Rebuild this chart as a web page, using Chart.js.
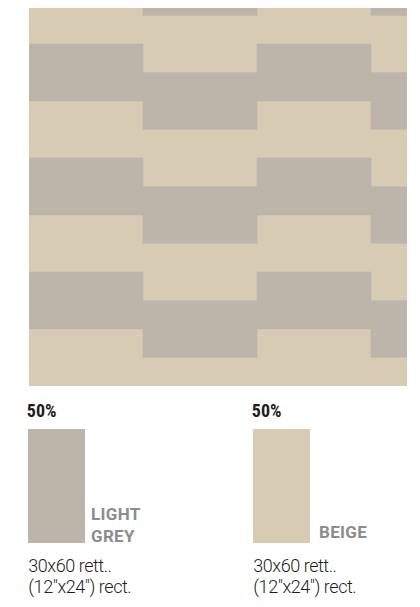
<!DOCTYPE html>
<html>
<head>
<meta charset="utf-8">
<script src="https://cdn.jsdelivr.net/npm/chart.js@4/dist/chart.umd.min.js"></script>
<style>
  html, body { margin: 0; padding: 0; background: #ffffff; }
  body { width: 420px; height: 607px; position: relative; overflow: hidden; }
  #wrap { position: absolute; left: 0; top: 0; width: 420px; height: 394px; }
  .pct { position: absolute; font-family: "Roboto Condensed", "DejaVu Sans Condensed", sans-serif; font-weight: bold; font-size: 18px; line-height: 18px; color: #1e1e1e; white-space: nowrap; }
  .sw { position: absolute; width: 57px; height: 114px; }
  .name { position: absolute; font-family: Roboto, "Liberation Sans", sans-serif; font-weight: 700; font-size: 17px; line-height: 22px; letter-spacing: 0.3px; color: #8c8c8c; white-space: nowrap; }
  .size { position: absolute; font-family: Roboto, "Liberation Sans", sans-serif; font-weight: 300; font-size: 18px; line-height: 20.5px; letter-spacing: -0.45px; color: #1e1e1e; white-space: nowrap; }
</style>
</head>
<body>
<div id="wrap"><canvas id="c" width="420" height="394"></canvas></div>
<div id="legend"></div>
<script>
// Pattern: columns of 30x60 cm tiles laid vertically (x = column centre in cm, columns 60 cm wide)
const columnEdges = [0, 60, 120, 180];
const patternWidthCm = 198.95;
const patternHeightCm = 198.95;

// tile segments [bottom, top] in cm, measured from the bottom edge of the pattern
const greyTiles = [
  {x: 30,  y: [30, 60]}, {x: 30,  y: [90, 120]}, {x: 30,  y: [150, 180]},
  {x: 90,  y: [15, 45]}, {x: 90,  y: [75, 105]}, {x: 90,  y: [135, 165]}, {x: 90,  y: [195, 225]},
  {x: 150, y: [30, 60]}, {x: 150, y: [90, 120]}, {x: 150, y: [150, 180]},
  {x: 210, y: [15, 45]}, {x: 210, y: [75, 105]}, {x: 210, y: [135, 165]}, {x: 210, y: [195, 225]}
];
const beigeTiles = [
  {x: 30,  y: [0, 30]},   {x: 30,  y: [60, 90]},  {x: 30,  y: [120, 150]}, {x: 30,  y: [180, 210]},
  {x: 90,  y: [-15, 15]}, {x: 90,  y: [45, 75]},  {x: 90,  y: [105, 135]}, {x: 90,  y: [165, 195]},
  {x: 150, y: [0, 30]},   {x: 150, y: [60, 90]},  {x: 150, y: [120, 150]}, {x: 150, y: [180, 210]},
  {x: 210, y: [-15, 15]}, {x: 210, y: [45, 75]},  {x: 210, y: [105, 135]}, {x: 210, y: [165, 195]}
];

const seriesNames = ['LIGHT GREY', 'BEIGE'];
const seriesShares = ['50%', '50%'];
const seriesColors = ['#bdb4aa', '#d8cbb4'];
const tileFormat = ['30x60 rett..', '(12\u2033x24\u2033) rect.'];

new Chart(document.getElementById('c'), {
  type: 'bar',
  data: {
    datasets: [
      { label: seriesNames[0], data: greyTiles, backgroundColor: seriesColors[0] },
      { label: seriesNames[1], data: beigeTiles, backgroundColor: seriesColors[1] }
    ]
  },
  options: {
    responsive: false,
    animation: false,
    events: [],
    layout: { padding: { left: 29, right: 13, top: 8, bottom: 8 } },
    datasets: {
      bar: { grouped: false, barPercentage: 1, categoryPercentage: 1, borderWidth: 0, clip: 0 }
    },
    scales: {
      x: {
        type: 'linear', min: 0, max: patternWidthCm, display: false, offset: false,
        afterBuildTicks: (s) => { s.ticks = columnEdges.map(v => ({ value: v })); }
      },
      y: { type: 'linear', min: 0, max: patternHeightCm, display: false }
    },
    plugins: { legend: { display: false }, tooltip: { enabled: false } }
  }
});

// legend below the pattern
const legend = document.getElementById('legend');
const blockLeft = [28, 253];
const nameTop = [[502.5, 524.5], [520.5]];
const nameLeft = [91, 319];
seriesNames.forEach((name, i) => {
  const p = document.createElement('div');
  p.className = 'pct'; p.textContent = seriesShares[i];
  p.style.left = (blockLeft[i] - 1.2) + 'px'; p.style.top = '401.9px';
  legend.appendChild(p);
  const sw = document.createElement('div');
  sw.className = 'sw'; sw.style.left = blockLeft[i] + 'px'; sw.style.top = '429px';
  sw.style.background = seriesColors[i];
  legend.appendChild(sw);
  name.split(' ').forEach((w, j) => {
    const n = document.createElement('div');
    n.className = 'name'; n.textContent = w;
    n.style.left = nameLeft[i] + 'px'; n.style.top = nameTop[i][j] + 'px';
    legend.appendChild(n);
  });
  tileFormat.forEach((t, j) => {
    const s = document.createElement('div');
    s.className = 'size'; s.textContent = t;
    s.style.left = (blockLeft[i] + 0.3) + 'px'; s.style.top = (556.3 + j * 20.5) + 'px';
    legend.appendChild(s);
  });
});
</script>
</body>
</html>
